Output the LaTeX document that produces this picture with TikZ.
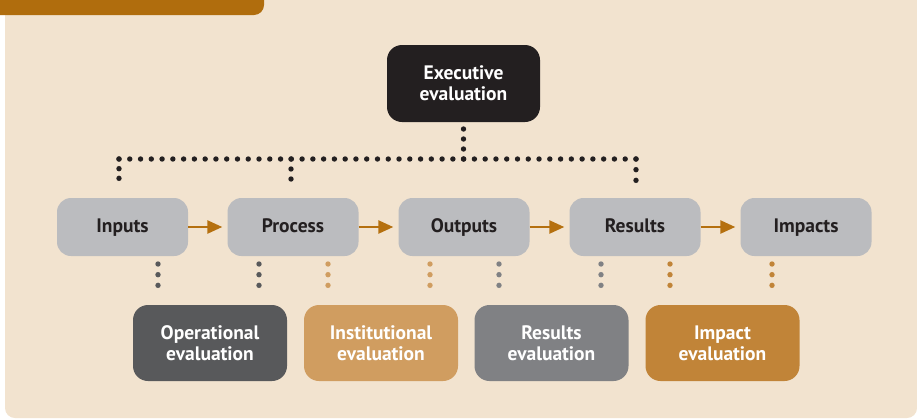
\documentclass[tikz,border=0pt]{standalone}
\usepackage{fontspec}
\setmainfont{PT Sans}
\usetikzlibrary{arrows.meta}
\definecolor{bgbeige}{HTML}{F2E3CF}
\definecolor{barbrown}{HTML}{B06D0D}
\definecolor{boxgrey}{HTML}{BBBCBF}
\definecolor{exdark}{HTML}{231F20}
\definecolor{opgrey}{HTML}{58595B}
\definecolor{insttan}{HTML}{D09D60}
\definecolor{resgrey}{HTML}{808184}
\definecolor{impbrown}{HTML}{C18438}
\definecolor{arrbrown}{HTML}{B5700F}
\tikzset{
  topbox/.style={rounded corners=14pt, fill=boxgrey, minimum width=131pt, minimum height=58pt,
    inner sep=0pt, text=exdark, text height=14pt, text depth=4pt,
    font=\bfseries\fontsize{19.5}{21}\selectfont},
  evalbox/.style={rounded corners=15pt, minimum width=154pt, minimum height=76pt, inner sep=0pt,
    text=white, align=center, font=\bfseries\fontsize{19.5}{21}\selectfont},
  dotline/.style={line width=5.4pt, line cap=round, dash pattern=on 0pt off #1},
  flowarrow/.style={draw=arrbrown, line width=2.5pt, -{Triangle[length=15pt,width=13pt]}, shorten >=5pt},
}
\begin{document}
\begin{tikzpicture}[x=1pt,y=-1pt]
\useasboundingbox (0,0) rectangle (917,418);
\fill[white] (0,0) rectangle (917,418);
\fill[bgbeige, rounded corners=10pt] (5,-30) rectangle (917,418);
\fill[barbrown, rounded corners=10pt] (-30,-30) rectangle (264,15);

\node[evalbox, fill=exdark, minimum width=153pt, minimum height=77pt] (ex) at (463.5,83.5) {Executive\\evaluation};

\node[topbox] (in) at (122.5,227) {Inputs};
\node[topbox] (pr) at (293,227) {Process};
\node[topbox] (ou) at (464,227) {Outputs};
\node[topbox] (re) at (635,227) {Results};
\node[topbox] (im) at (806,227) {Impacts};

\node[evalbox, fill=opgrey] (op) at (210,343) {Operational\\evaluation};
\node[evalbox, fill=insttan] (it) at (381,343) {Institutional\\evaluation};
\node[evalbox, fill=resgrey] (rv) at (551.5,343) {Results\\evaluation};
\node[evalbox, fill=impbrown] (iv) at (722.5,343) {Impact\\evaluation};

\draw[flowarrow] (in) -- (pr);
\draw[flowarrow] (pr) -- (ou);
\draw[flowarrow] (ou) -- (re);
\draw[flowarrow] (re) -- (im);

% executive dotted tree
\coordinate (tl) at (119,159);
\coordinate (tr) at (636,159);
\coordinate (tx) at (463.5,159);
\coordinate (tp) at (291,159);
\coordinate (exd) at (463.5,129);
\coordinate (ind) at (119,188);
\coordinate (prd) at (291,189);
\coordinate (red) at (636,191);
\draw[exdark, dotline=10.77pt] (tl) -- (tr);
\draw[exdark, dotline=10pt] (exd) -- (tx);
\draw[exdark, dotline=9.67pt] (tl) -- (ind);
\draw[exdark, dotline=10pt] (tp) -- (prd);
\draw[exdark, dotline=10.67pt] (tr) -- (red);

% lower dotted links
\foreach \x/\c in {158/opgrey, 259/opgrey, 328/insttan, 430/insttan, 499/resgrey, 601/resgrey, 670/impbrown, 772/impbrown}{
  \draw[\c, dotline=10.67pt] (\x,264) -- (\x,296);
}
\end{tikzpicture}
\end{document}
